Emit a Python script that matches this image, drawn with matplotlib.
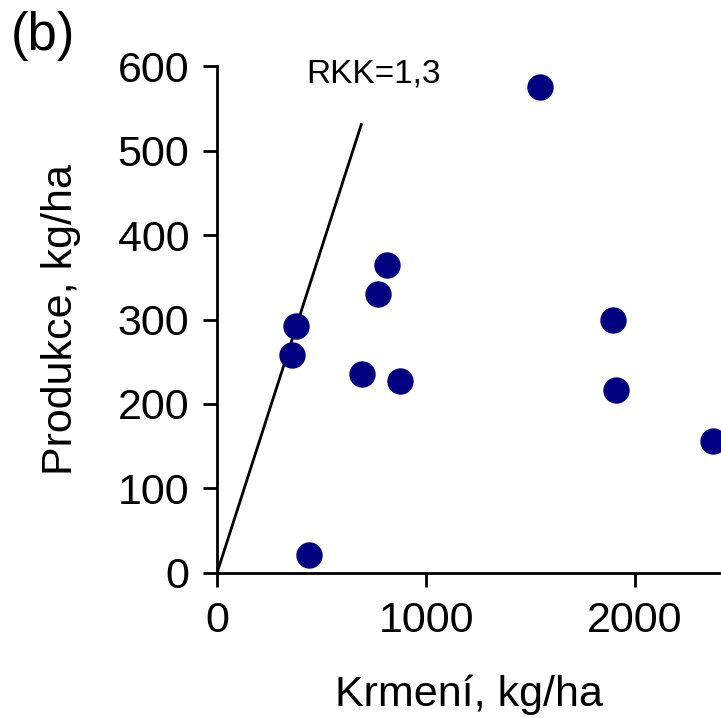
import matplotlib
matplotlib.use("Agg")
import matplotlib.pyplot as plt

plt.rcParams['font.family'] = ['Liberation Sans', 'DejaVu Sans']

# data
krmeni = [1545, 813, 770, 378, 359, 694, 876, 440, 1895, 1909, 2373]
produkce = [575, 364, 330, 292, 258, 235, 227, 21, 299, 217, 156]

# RKK = 1.3 line
rkk = 1.3
line_x = [0, 690]
line_y = [x / rkk for x in line_x]

fig = plt.figure(figsize=(7.21, 7.18), dpi=100)
ax = fig.add_axes([0.301, 0.202, 0.699, 0.706])

ax.plot(line_x, line_y, color='black', linewidth=2)
ax.plot(krmeni, produkce, 'o', color='#000080', markersize=18, clip_on=False)
ax.text(425, 591, 'RKK=1,3', fontsize=24, ha='left', va='center')

ax.set_xlim(0, 2411)
ax.set_ylim(0, 600)
ax.set_xticks([0, 1000, 2000])
ax.set_yticks([0, 100, 200, 300, 400, 500, 600])
ax.tick_params(labelsize=31, length=10, width=2, pad=10)
ax.spines['top'].set_visible(False)
ax.spines['right'].set_visible(False)
ax.spines['left'].set_linewidth(2)
ax.spines['bottom'].set_linewidth(2)

ax.set_xlabel('Krmení, kg/ha', fontsize=31, labelpad=24)
ax.set_ylabel('Produkce, kg/ha', fontsize=31, labelpad=26)
fig.text(0.015, 0.95, '(b)', fontsize=38, ha='left', va='center')

fig.savefig('out.png', dpi=100)
